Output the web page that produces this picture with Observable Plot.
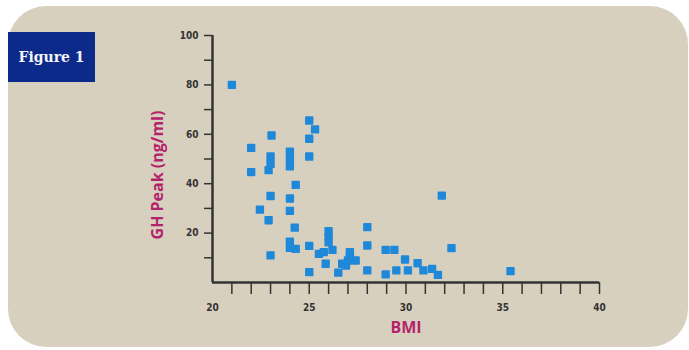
<!DOCTYPE html>
<html><head><meta charset="utf-8">
<script src="https://cdn.jsdelivr.net/npm/d3@7"></script>
<script src="https://cdn.jsdelivr.net/npm/@observablehq/plot@0.6"></script>
<style>
body{margin:0;background:#fff;width:689px;height:350px;position:relative;overflow:hidden}
#panel{position:absolute;left:8px;top:6px;width:680px;height:341px;background:#d8d0bf;border-radius:38px}
#fig{position:absolute;left:8px;top:32px;width:87px;height:50px;background:#0c2a8a;color:#f4f4fa;font:bold 14px "DejaVu Serif",serif;display:flex;align-items:center;justify-content:center}
#chart{position:absolute;left:0;top:0}
</style>
</head><body>
<div id="panel"></div>
<div id="fig">Figure 1</div>
<div id="chart"></div>
<script>
const bmi = [21.0,22.0,22.0,22.45,23.05,23.0,23.0,22.9,23.0,22.9,23.0,24.0,24.0,24.0,24.3,24.0,24.0,24.25,24.0,24.0,24.3,25.0,25.3,25.0,25.0,25.0,25.0,26.0,26.0,26.0,25.75,26.2,25.5,25.85,26.5,26.7,27.1,27.1,27.0,27.4,26.9,28.0,28.0,28.0,28.95,29.4,28.95,29.5,30.1,29.95,30.6,30.9,31.35,31.65,31.85,32.35,35.4];
const ghPeak = [80,54.5,44.7,29.5,59.5,51,48,45.5,35,25.2,11,53,50,47,39.5,34,29,22.2,16.5,14,13.6,65.6,62,58.2,51,14.8,4.2,20.8,18.5,16.3,12.3,13.2,11.6,7.6,4,7.6,12.3,10.3,8.9,8.9,6.9,22.4,15,4.9,13.2,13.2,3.3,4.9,4.9,9.3,7.8,4.9,5.5,3.1,35.2,13.9,4.6];
const xTicks = d3.range(21, 41);
const xTickLabels = [20, 25, 30, 35, 40];
const yTicks = d3.range(10, 101, 10);
const yTickLabels = [20, 40, 60, 80, 100];
const xLabel = "BMI";
const yLabel = "GH Peak (ng/ml)";

const data = bmi.map((b, i) => ({bmi: b, gh: ghPeak[i]}));
const axisColor = "#333";
const labelColor = "#b3236c";
const tickFont = {fontFamily: "'Liberation Sans Narrow','DejaVu Sans Condensed',sans-serif"};

const chart = Plot.plot({
  width: 689, height: 350,
  marginLeft: 212, marginRight: 90, marginTop: 35, marginBottom: 68,
  x: {domain: [20, 40]},
  y: {domain: [0, 100]},
  style: {background: "transparent", color: axisColor, fontFamily: tickFont.fontFamily, fontWeight: "bold", fontSize: "10px"},
  marks: [
    Plot.axisX({ticks: xTicks, tickSize: 12, tickFormat: () => "", strokeWidth: 1.5, label: null}),
    Plot.axisX({ticks: xTickLabels, tickSize: 0, tickPadding: 21, label: null}),
    Plot.axisY({ticks: yTicks, tickSize: 8, tickPadding: 6, strokeWidth: 1.5, tickFormat: d => yTickLabels.includes(d) ? d : "", label: null}),
    Plot.ruleX([20], {stroke: axisColor, strokeWidth: 2.5}),
    Plot.ruleY([0], {stroke: axisColor, strokeWidth: 2.5}),
    Plot.dot(data, {x: "bmi", y: "gh", symbol: "square", r: 3.7, fill: "#1f88d9", stroke: "#1f88d9", strokeWidth: 1.8, strokeLinejoin: "round"}),
    Plot.text([xLabel], {frameAnchor: "bottom", dy: 50, text: d => d, fill: labelColor, fontSize: 16, fontWeight: "bold", fontFamily: "'Open Sans',sans-serif"}),
    Plot.text([yLabel], {frameAnchor: "left", dx: -55, dy: 16, rotate: -90, textAnchor: "middle", text: d => d, fill: labelColor, fontSize: 16, fontWeight: "bold", fontFamily: "'Open Sans',sans-serif"})
  ]
});
document.getElementById("chart").append(chart);
</script>
</body></html>
